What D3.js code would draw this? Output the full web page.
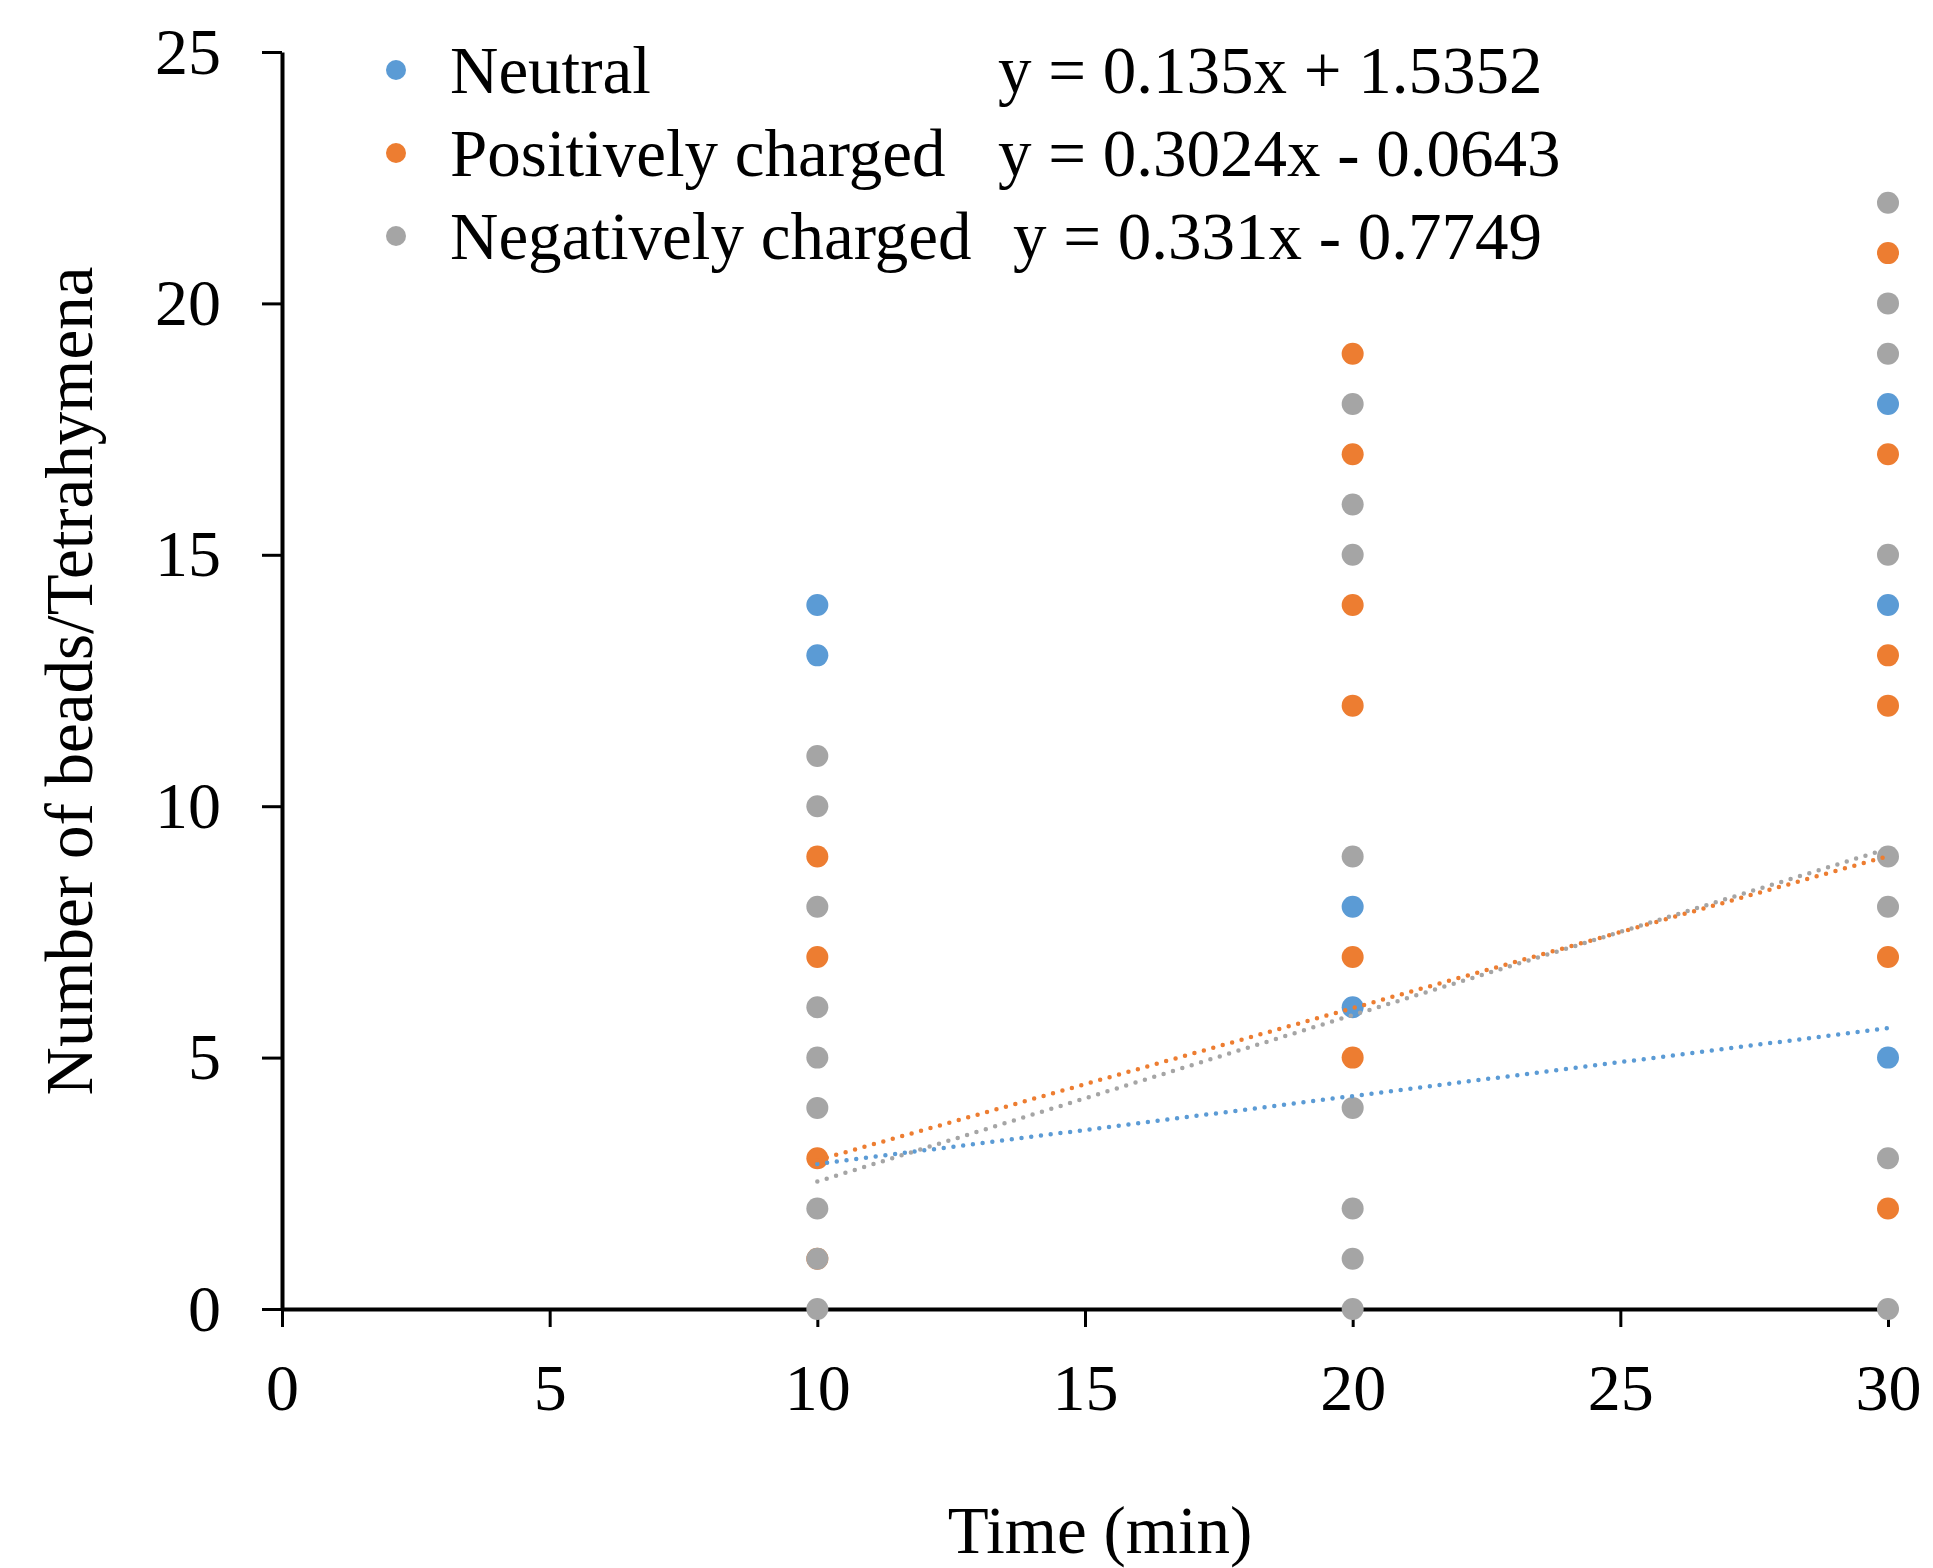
<!DOCTYPE html>
<html lang="en">
<head>
    <meta charset="UTF-8">
    <title>Number of beads per Tetrahymena over time</title>
    <style>
        body {
            margin: 0;
            background: #ffffff;
        }
        svg text {
            font-family: 'Liberation Serif', 'Times New Roman', serif;
            fill: #000;
        }
    </style>
</head>
<body>
    <div id="chart"></div>

    <script src="https://d3js.org/d3.v7.min.js"></script>
    <script>
        // Series names, colours and fitted trendlines (from the chart legend)
        const seriesNames = ['Neutral', 'Positively charged', 'Negatively charged'];
        const seriesColors = ['#5B9BD5', '#ED7D31', '#A5A5A5'];
        const slopes = [0.135, 0.3024, 0.331];
        const intercepts = [1.5352, -0.0643, -0.7749];
        const equations = ['y = 0.135x + 1.5352', 'y = 0.3024x - 0.0643', 'y = 0.331x - 0.7749'];

        // Observations (time in min, beads per cell)
        const neutralTime = [10, 10, 20, 20, 30, 30, 30];
        const neutralValue = [14, 13, 8, 6, 18, 14, 5];

        const positiveTime = [10, 10, 10, 10, 20, 20, 20, 20, 20, 20, 30, 30, 30, 30, 30, 30];
        const positiveValue = [9, 7, 3, 1, 19, 17, 14, 12, 7, 5, 21, 17, 13, 12, 7, 2];

        const negativeTime = [10, 10, 10, 10, 10, 10, 10, 10, 10, 20, 20, 20, 20, 20, 20, 20, 20, 30, 30, 30, 30, 30, 30, 30, 30];
        const negativeValue = [11, 10, 8, 6, 5, 4, 2, 1, 0, 18, 16, 15, 9, 4, 2, 1, 0, 22, 20, 19, 15, 9, 8, 3, 0];

        const xTicks = [0, 5, 10, 15, 20, 25, 30];
        const yTicks = [0, 5, 10, 15, 20, 25];
        const fitRange = [10, 30];

        const width = 1933;
        const height = 1568;

        const svg = d3.select('#chart')
            .append('svg')
            .attr('width', width)
            .attr('height', height)
            .style('background-color', '#ffffff');

        const x = d3.scaleLinear().domain([0, 30]).range([282, 1888]);
        const y = d3.scaleLinear().domain([0, 25]).range([1309, 52]);

        // axes
        const yAxis = svg.append('g')
            .attr('transform', `translate(${x(0)},0)`)
            .call(d3.axisLeft(y).tickValues(yTicks).tickSize(20).tickSizeOuter(0).tickPadding(41));

        const xAxis = svg.append('g')
            .attr('transform', `translate(0,${y(0)})`)
            .call(d3.axisBottom(x).tickValues(xTicks).tickSize(18).tickSizeOuter(0));

        [xAxis, yAxis].forEach(g => {
            g.select('.domain').attr('stroke', '#000').attr('stroke-width', 4);
            g.selectAll('.tick line').attr('stroke', '#000').attr('stroke-width', 3);
            g.selectAll('.tick text')
                .style('font-family', "'Liberation Serif', 'Times New Roman', serif")
                .attr('font-size', 66)
                .attr('fill', '#000');
        });
        xAxis.selectAll('.tick text').attr('y', 101).attr('dy', 0);

        // points, drawn series by series so grey ends on top
        const series = [
            neutralTime.map((t, i) => ({ t: t, v: neutralValue[i] })),
            positiveTime.map((t, i) => ({ t: t, v: positiveValue[i] })),
            negativeTime.map((t, i) => ({ t: t, v: negativeValue[i] }))
        ];

        series.forEach((pts, s) => {
            svg.append('g')
                .selectAll('circle')
                .data(pts)
                .enter()
                .append('circle')
                .attr('cx', d => x(d.t))
                .attr('cy', d => y(d.v))
                .attr('r', 11)
                .attr('fill', seriesColors[s]);
        });

        // dotted linear trendlines
        const line = d3.line().x(d => x(d[0])).y(d => y(d[1]));
        slopes.forEach((m, s) => {
            const ends = fitRange.map(t => [t, m * t + intercepts[s]]);
            svg.append('path')
                .attr('d', line(ends))
                .attr('fill', 'none')
                .attr('stroke', seriesColors[s])
                .attr('stroke-width', 4.5)
                .attr('stroke-linecap', 'round')
                .attr('stroke-dasharray', '0 9.8');
        });

        // legend with equations
        const legendX = 396;
        const legendY = 70;
        const rowGap = 83;
        const eqX = [998, 998, 1013];

        seriesNames.forEach((name, i) => {
            const cy = legendY + i * rowGap;
            svg.append('circle')
                .attr('cx', legendX)
                .attr('cy', cy)
                .attr('r', 10)
                .attr('fill', seriesColors[i]);
            svg.append('text')
                .attr('x', 450)
                .attr('y', cy + 23)
                .attr('font-size', 67)
                .text(name);
            svg.append('text')
                .attr('x', eqX[i])
                .attr('y', cy + 23)
                .attr('font-size', 67)
                .text(equations[i]);
        });

        // axis titles
        svg.append('text')
            .attr('x', 1100)
            .attr('y', 1553)
            .attr('text-anchor', 'middle')
            .attr('font-size', 67)
            .text('Time (min)');

        svg.append('text')
            .attr('transform', 'translate(92,681) rotate(-90)')
            .attr('text-anchor', 'middle')
            .attr('font-size', 67)
            .text('Number of beads/Tetrahymena');
    </script>
</body>
</html>
